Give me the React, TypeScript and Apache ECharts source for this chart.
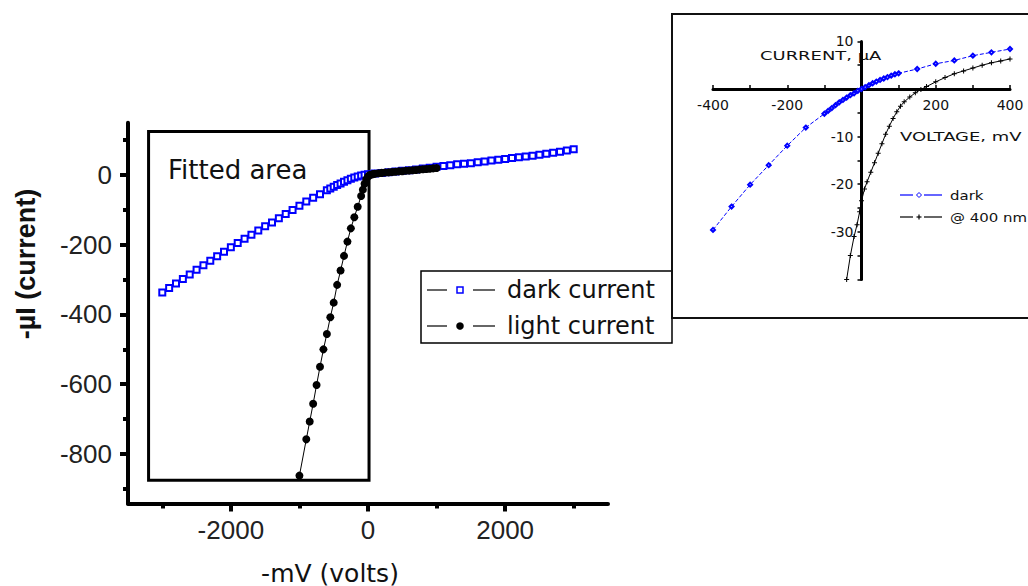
import React, { useEffect, useRef } from "react";
import * as echarts from "echarts";

// ---- Main plot: I-V sweep, dark vs illuminated ----
const darkMv = [
  -3000, -2900, -2800, -2700, -2600, -2500, -2400, -2300, -2200, -2100,
  -2000, -1900, -1800, -1700, -1600, -1500, -1400, -1300, -1200, -1100,
  -1000, -900, -800, -700, -600,
  -550, -500, -450, -400, -350, -300, -250, -200, -150, -100, -50, 0,
  100, 200, 300, 400, 500, 600, 700, 800, 900, 1000,
  1100, 1200, 1300, 1400, 1500, 1600, 1700, 1800, 1900, 2000,
  2100, 2200, 2300, 2400, 2500, 2600, 2700, 2800, 2900, 3000,
];
const darkUa = [
  -337, -324, -311, -298, -285, -272, -259, -246, -233, -220,
  -207, -195, -183, -171, -159, -147, -136, -124, -112, -100,
  -88, -76, -65, -55, -44,
  -39, -34, -29, -24, -19.5, -15, -10.5, -7, -4, -1.5, 0.5, 2,
  4, 6, 8, 10, 12, 14, 16, 18.5, 21, 23.5,
  26, 28, 30.5, 32.5, 34, 36.5, 39, 41.5, 44, 46,
  48.5, 51, 53, 55.5, 58, 61, 64, 67, 70, 74,
];
const lightMv = [
  -1000, -900, -850, -800, -750, -700, -650, -600, -550, -500,
  -450, -400, -350, -300, -250, -200, -150, -100, -75, -50, -25, 0,
  25, 50, 75, 100, 150, 200, 250, 300, 350, 400, 450, 500,
  550, 600, 650, 700, 750, 800, 850, 900, 950, 1000,
];
const lightUa = [
  -862, -758, -707, -656, -602, -550, -500, -456, -408, -366,
  -315, -274, -232, -191, -153, -121, -91, -60, -42, -25, -12, -4,
  0, 1.5, 2.5, 3.5, 5, 6, 7, 7.5, 8.5, 9.5, 10.5, 11,
  12, 12.5, 13.5, 14.5, 15.5, 16.5, 17, 18, 19, 20,
];
const xTicks = [-2000, 0, 2000];
const xMinorTicks = [-3000, -1000, 1000, 3000];
const yTicks = [-800, -600, -400, -200, 0];
const yMinorTicks = [-900, -700, -500, -300, -100, 100];
// region used for the fit, in data units [mV, µA]
const fitFrom = [-3200, 125];
const fitTo = [15, -875];

// ---- Inset: low-voltage detail ----
const insetDarkMv = [
  -400, -350, -300, -250, -200, -150, -100, -90, -80, -70, -60, -50, -40,
  -30, -20, -10, 0, 10, 20, 30, 40, 50, 60, 70, 80, 90, 100, 150, 200, 250,
  300, 350, 400,
];
const insetDarkUa = [
  -29.6, -24.7, -20.1, -16, -11.9, -8.1, -5.2, -4.6, -4, -3.4, -2.8, -2.3,
  -1.8, -1.3, -0.9, -0.4, 0, 0.4, 0.8, 1.2, 1.55, 1.9, 2.2, 2.5, 2.8, 3.1,
  3.3, 4.2, 5.3, 6, 7, 7.7, 8.4,
];
const insetLightMv = [
  -40, -30, -20, -12, -5, 0, 8, 15, 25, 35, 45, 55, 65, 75, 85, 95, 105, 115,
  130, 145, 160, 175, 200, 225, 250, 275, 300, 325, 350, 375, 400,
];
const insetLightUa = [
  -40, -35, -31, -28.5, -25.8, -23.5, -21, -19.5, -17.5, -15.5, -13.5, -11.5,
  -9.5, -7.8, -6.2, -4.8, -3.6, -2.7, -1.7, -0.8, -0.1, 0.5, 1.5, 2.4, 3.2,
  3.8, 4.4, 5, 5.5, 5.9, 6.3,
];
const insetXLabels = [-400, -200, 200, 400];
const insetYLabels = [-30, -20, -10, 10];

const pair = (xs: number[], ys: number[]) => xs.map((x, i) => [x, ys[i]]);
const plain = (v: number) => String(v);

const SANS = "DejaVu Sans";
const ARIAL = "Liberation Sans";
const BLUE = "#0000ff";

// inset grid geometry; the axes cross at (0, 0)
const INSET_LEFT = 713;
const INSET_TOP = 41.4;
const INSET_W = 297;
const INSET_H = 238;
const INSET_X = [-400, 400];
const INSET_Y = [-40, 10];

function buildOption(): echarts.EChartsOption {
  const tickLabel = { fontFamily: ARIAL, fontSize: 26, color: "#222", formatter: plain };
  const insetLabel = { fontFamily: SANS, fontSize: 14, color: "#111", formatter: plain };
  const plus = "path://M2,0H3V2H5V3H3V5H2V3H0V2H2Z";

  // shift the inset axes from the grid edges onto the zero lines
  const xZeroFromBottom = ((0 - INSET_Y[0]) / (INSET_Y[1] - INSET_Y[0])) * INSET_H;
  const yZeroFromLeft = ((0 - INSET_X[0]) / (INSET_X[1] - INSET_X[0])) * INSET_W;

  return {
    animation: false,
    grid: [
      { left: 128, top: 122.7, width: 480, height: 380.8 },
      { left: INSET_LEFT, top: INSET_TOP, width: INSET_W, height: INSET_H },
    ],
    xAxis: [
      {
        gridIndex: 0, type: "value", min: -3500, max: 3500, position: "bottom",
        axisLine: { onZero: false, lineStyle: { color: "#000", width: 4 } },
        axisTick: { customValues: xTicks, length: 8, lineStyle: { color: "#000", width: 4 } },
        axisLabel: { customValues: xTicks, margin: 13, ...tickLabel },
        splitLine: { show: false },
      },
      {
        gridIndex: 0, type: "value", min: -3500, max: 3500, position: "bottom",
        axisLine: { show: false, onZero: false },
        axisTick: { customValues: xMinorTicks, length: 5, lineStyle: { color: "#000", width: 4 } },
        axisLabel: { show: false },
        splitLine: { show: false },
      },
      {
        gridIndex: 1, type: "value", min: INSET_X[0], max: INSET_X[1], interval: 100,
        position: "bottom", offset: -xZeroFromBottom,
        axisLine: { onZero: false, lineStyle: { color: "#000", width: 3 } },
        axisTick: { inside: true, length: 4, lineStyle: { color: "#000", width: 1.5 } },
        axisLabel: { customValues: insetXLabels, margin: 9, ...insetLabel },
        splitLine: { show: false },
      },
    ],
    yAxis: [
      {
        gridIndex: 0, type: "value", min: -942, max: 150, position: "left",
        axisLine: { onZero: false, lineStyle: { color: "#000", width: 4 } },
        axisTick: { customValues: yTicks, length: 8, lineStyle: { color: "#000", width: 4 } },
        axisLabel: { customValues: yTicks, margin: 16, ...tickLabel },
        splitLine: { show: false },
      },
      {
        gridIndex: 0, type: "value", min: -942, max: 150, position: "left",
        axisLine: { show: false, onZero: false },
        axisTick: { customValues: yMinorTicks, length: 5, lineStyle: { color: "#000", width: 4 } },
        axisLabel: { show: false },
        splitLine: { show: false },
      },
      {
        gridIndex: 1, type: "value", min: INSET_Y[0], max: INSET_Y[1], interval: 5,
        position: "left", offset: -yZeroFromLeft,
        axisLine: { onZero: false, lineStyle: { color: "#000", width: 3 } },
        axisTick: { length: 4, lineStyle: { color: "#000", width: 1.5 } },
        axisLabel: { customValues: insetYLabels, margin: 8, ...insetLabel },
        splitLine: { show: false },
      },
    ],
    series: [
      {
        name: "dark current", type: "line", xAxisIndex: 0, yAxisIndex: 0,
        data: pair(darkMv, darkUa),
        symbol: "emptyRect", symbolSize: 6,
        itemStyle: { color: BLUE, borderWidth: 1.5 },
        lineStyle: { color: BLUE, width: 1 },
        z: 3,
        markArea: {
          silent: true,
          itemStyle: { color: "rgba(0,0,0,0)", borderColor: "#000", borderWidth: 3 },
          data: [[{ coord: fitFrom }, { coord: fitTo }]],
        },
      },
      {
        name: "light current", type: "line", xAxisIndex: 0, yAxisIndex: 0,
        data: pair(lightMv, lightUa),
        symbol: "circle", symbolSize: 8,
        itemStyle: { color: "#000" },
        lineStyle: { color: "#000", width: 1 },
        z: 4,
      },
      {
        name: "dark", type: "line", xAxisIndex: 2, yAxisIndex: 2,
        data: pair(insetDarkMv, insetDarkUa),
        symbol: "emptyDiamond", symbolSize: 4,
        itemStyle: { color: BLUE, borderWidth: 1 },
        lineStyle: { color: BLUE, width: 1, type: [4, 2] },
      },
      {
        name: "@ 400 nm", type: "line", xAxisIndex: 2, yAxisIndex: 2,
        data: pair(insetLightMv, insetLightUa),
        symbol: plus, symbolSize: 5,
        itemStyle: { color: "#000" },
        lineStyle: { color: "#000", width: 1 },
      },
    ],
    graphic: [
      // axis titles of the main plot
      {
        type: "text", x: 330, y: 573,
        style: { text: "-mV (volts)", fontFamily: SANS, fontSize: 25, fill: "#111", align: "center", verticalAlign: "middle" },
      },
      {
        type: "text", x: 26, y: 264, rotation: Math.PI / 2,
        style: { text: "-µI (current)", fontFamily: ARIAL, fontWeight: "bold", fontSize: 27, fill: "#111", align: "center", verticalAlign: "middle" },
      },
      {
        type: "text", x: 168, y: 170,
        style: { text: "Fitted area", fontFamily: SANS, fontSize: 26, fill: "#111", align: "left", verticalAlign: "middle" },
      },
      // main legend
      {
        type: "group",
        children: [
          { type: "rect", shape: { x: 421, y: 271, width: 251, height: 72 }, style: { fill: "#fff", stroke: "#000", lineWidth: 1.5 } },
          { type: "line", shape: { x1: 427, y1: 290, x2: 447, y2: 290 }, style: { stroke: "#000", lineWidth: 1.2 } },
          { type: "line", shape: { x1: 473, y1: 290, x2: 495, y2: 290 }, style: { stroke: "#000", lineWidth: 1.2 } },
          { type: "rect", shape: { x: 457, y: 287, width: 6, height: 6 }, style: { fill: "#fff", stroke: BLUE, lineWidth: 1.5 } },
          { type: "text", x: 507, y: 290, style: { text: "dark current", fontFamily: SANS, fontSize: 24, fill: "#111", align: "left", verticalAlign: "middle" } },
          { type: "line", shape: { x1: 427, y1: 326, x2: 447, y2: 326 }, style: { stroke: "#000", lineWidth: 1.2 } },
          { type: "line", shape: { x1: 473, y1: 326, x2: 495, y2: 326 }, style: { stroke: "#000", lineWidth: 1.2 } },
          { type: "circle", shape: { cx: 460, cy: 326, r: 3.8 }, style: { fill: "#000" } },
          { type: "text", x: 507, y: 326, style: { text: "light current", fontFamily: SANS, fontSize: 24, fill: "#111", align: "left", verticalAlign: "middle" } },
        ],
      },
      // inset frame, axis names and legend
      {
        type: "group",
        children: [
          { type: "rect", shape: { x: 672, y: 14, width: 380, height: 304 }, style: { fill: "none", stroke: "#111", lineWidth: 2 } },
          { type: "text", x: 760, y: 55, scaleX: 1.38, style: { text: "CURRENT, µA", fontFamily: SANS, fontSize: 13, fill: "#111", align: "left", verticalAlign: "middle" } },
          { type: "text", x: 900, y: 136, scaleX: 1.38, style: { text: "VOLTAGE, mV", fontFamily: SANS, fontSize: 13, fill: "#111", align: "left", verticalAlign: "middle" } },
          { type: "line", shape: { x1: 900, y1: 195, x2: 913, y2: 195 }, style: { stroke: BLUE, lineWidth: 1.2 } },
          { type: "line", shape: { x1: 924, y1: 195, x2: 942, y2: 195 }, style: { stroke: BLUE, lineWidth: 1.2 } },
          { type: "polygon", shape: { points: [[919, 192.5], [921.5, 195], [919, 197.5], [916.5, 195]] }, style: { fill: "#fff", stroke: BLUE, lineWidth: 1 } },
          { type: "text", x: 950, y: 195, scaleX: 1.15, style: { text: "dark", fontFamily: SANS, fontSize: 13, fill: "#111", align: "left", verticalAlign: "middle" } },
          { type: "line", shape: { x1: 900, y1: 217, x2: 913, y2: 217 }, style: { stroke: "#000", lineWidth: 1.2 } },
          { type: "line", shape: { x1: 924, y1: 217, x2: 942, y2: 217 }, style: { stroke: "#000", lineWidth: 1.2 } },
          { type: "line", shape: { x1: 916.5, y1: 217, x2: 921.5, y2: 217 }, style: { stroke: "#000", lineWidth: 1.2 } },
          { type: "line", shape: { x1: 919, y1: 214.5, x2: 919, y2: 219.5 }, style: { stroke: "#000", lineWidth: 1.2 } },
          { type: "text", x: 950, y: 217, scaleX: 1.15, style: { text: "@ 400 nm", fontFamily: SANS, fontSize: 13, fill: "#111", align: "left", verticalAlign: "middle" } },
        ],
      },
    ],
  } as echarts.EChartsOption;
}

export default function App() {
  const ref = useRef<HTMLDivElement>(null);
  useEffect(() => {
    if (!ref.current) return;
    const chart = echarts.init(ref.current, undefined, { renderer: "svg" });
    chart.setOption(buildOption());
    return () => chart.dispose();
  }, []);
  return (
    <div
      ref={ref}
      style={{ position: "fixed", left: 0, top: 0, width: 1028, height: 586, background: "#fff" }}
    />
  );
}
